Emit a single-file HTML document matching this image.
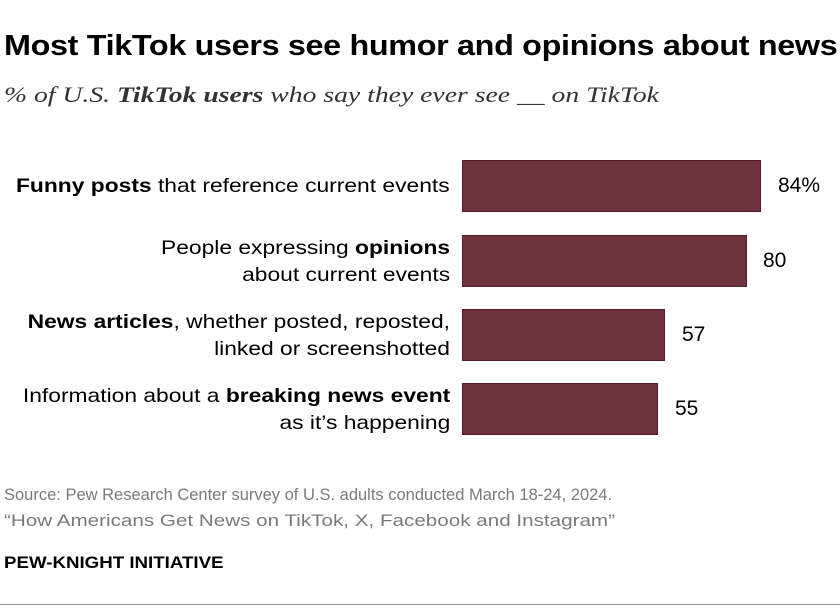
<!DOCTYPE html>
<html><head><style>
body{margin:0;width:840px;height:611px;background:#fff;position:relative;font-family:"Liberation Sans",sans-serif;color:#000;overflow:hidden}
.a{position:absolute;white-space:nowrap}
.t{left:4px;top:30px;font-size:29px;font-weight:bold;letter-spacing:-0.3px;transform:scaleX(1.115);transform-origin:left top}
.s{left:4px;top:82px;font-family:"Liberation Serif",serif;font-style:italic;font-size:22.5px;color:#333;transform:scaleX(1.23);transform-origin:left top}
.l{right:390px;text-align:right;font-size:19.5px;line-height:27px;transform:scaleX(1.17);transform-origin:right top}
.bar{position:absolute;left:462px;height:52px;background:#6e343e;border:1px solid #5a1a28;box-sizing:border-box}
.v{font-size:21px}
.src{left:4px;font-size:16.5px;color:#7a7a7a}
</style></head><body>
<div class="a t">Most TikTok users see humor and opinions about news</div>
<div class="a s">% of U.S. <b>TikTok users</b> who say they ever see __ on TikTok</div>

<div class="a l" style="top:173px"><b>Funny posts</b> that reference current events</div>
<div class="a l" style="top:235px">People expressing <b>opinions</b><br>about current events</div>
<div class="a l" style="top:309px"><b>News articles</b>, whether posted, reposted,<br>linked or screenshotted</div>
<div class="a l" style="top:383px">Information about a <b>breaking news event</b><br>as it’s happening</div>

<div class="bar" style="top:160px;width:299px"></div>
<div class="bar" style="top:235px;width:285px"></div>
<div class="bar" style="top:309px;width:203px"></div>
<div class="bar" style="top:383px;width:196px"></div>

<div class="a v" style="left:778px;top:174px">84%</div>
<div class="a v" style="left:763px;top:249px">80</div>
<div class="a v" style="left:682px;top:323px">57</div>
<div class="a v" style="left:675px;top:397px">55</div>

<div class="a src" style="top:486px">Source: Pew Research Center survey of U.S. adults conducted March 18-24, 2024.</div>
<div class="a src" style="top:512px;transform:scaleX(1.25);transform-origin:left top">“How Americans Get News on TikTok, X, Facebook and Instagram”</div>
<div class="a" style="left:4px;top:553px;font-size:17px;font-weight:bold;transform:scaleX(1.1);transform-origin:left top">PEW-KNIGHT INITIATIVE</div>
<div class="a" style="left:0;top:604px;width:840px;height:1px;background:#999"></div>
</body></html>
